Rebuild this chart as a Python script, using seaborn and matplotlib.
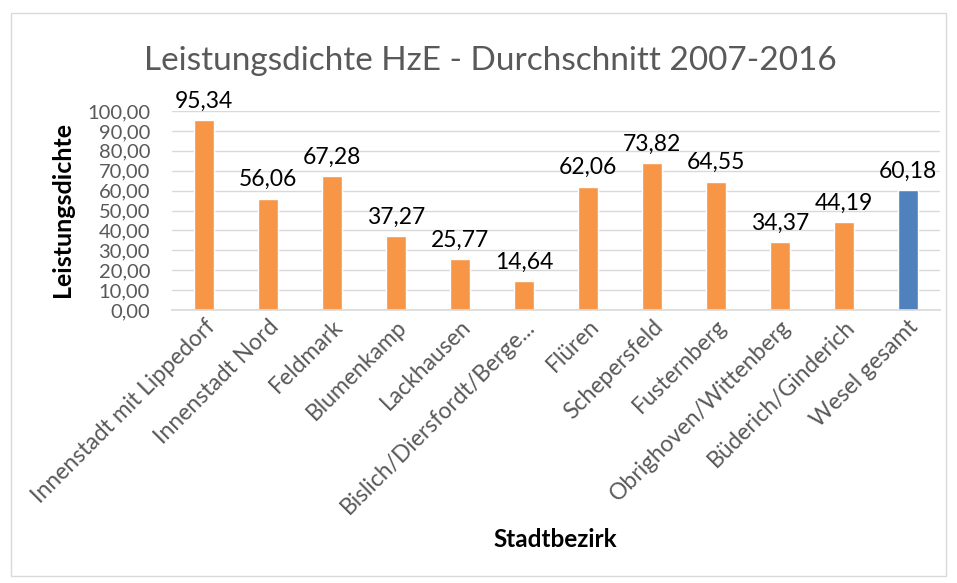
import matplotlib
matplotlib.use("Agg")
import matplotlib.pyplot as plt
import seaborn as sns
import pandas as pd

# Chart data
bezirke = ["Innenstadt mit Lippedorf", "Innenstadt Nord", "Feldmark", "Blumenkamp",
           "Lackhausen", "Bislich/Diersfordt/Berge...", "Flüren", "Schepersfeld",
           "Fusternberg", "Obrighoven/Wittenberg", "Büderich/Ginderich", "Wesel gesamt"]
werte = [95.34, 56.06, 67.28, 37.27, 25.77, 14.64, 62.06, 73.82, 64.55, 34.37, 44.19, 60.18]
gruppe = ["Bezirk"] * 11 + ["Gesamt"]

df = pd.DataFrame({"bezirk": bezirke, "wert": werte, "gruppe": gruppe})

sns.set_theme(style="white")
plt.rcParams["font.family"] = ["Lato", "DejaVu Sans"]

fig = plt.figure(figsize=(9.57, 5.83), dpi=100)
ax = fig.add_axes([0.18, 0.468, 0.802, 0.3416])

sns.barplot(data=df, x="bezirk", y="wert", hue="gruppe", dodge=False,
            palette={"Bezirk": "#F79646", "Gesamt": "#4F81BD"},
            width=0.31, legend=False, ax=ax, saturation=1)

ax.set_ylim(0, 100)
ax.set_xlim(-0.5, len(bezirke) - 0.5)
ax.set_yticks(range(0, 101, 10))
ax.set_yticklabels([f"{v:.2f}".replace(".", ",") for v in range(0, 101, 10)],
                   color="#595959", fontsize=14.5)
ax.tick_params(axis="y", length=0, pad=16)
ax.tick_params(axis="x", length=0, pad=4)
ax.set_xticks(range(len(bezirke)))
ax.set_xticklabels(bezirke, rotation=45, ha="right", rotation_mode="anchor",
                   color="#595959", fontsize=16.5)
ax.grid(axis="y", color="#D9D9D9", linewidth=1)
ax.set_axisbelow(True)
for s in ["top", "right", "left"]:
    ax.spines[s].set_visible(False)
ax.spines["bottom"].set_color("#D9D9D9")
ax.spines["bottom"].set_linewidth(1.2)

for i, v in enumerate(werte):
    ax.annotate(f"{v:.2f}".replace(".", ","), (i, v), xytext=(0, 6),
                textcoords="offset points", ha="center", va="bottom",
                fontsize=16.5, color="black")

ax.set_xlabel("")
ax.set_ylabel("")
fig.text(0.065, 0.64, "Leistungsdichte", rotation=90, ha="center", va="center",
         fontsize=18, fontweight="bold", color="black")
fig.text(0.58, 0.074, "Stadtbezirk", ha="center", va="center",
         fontsize=17.5, fontweight="bold", color="black")
fig.text(0.512, 0.895, "Leistungsdichte HzE - Durchschnitt 2007-2016", ha="center",
         va="center", fontsize=24, color="#595959")

# chart area border
fig.patches.append(plt.Rectangle((0.011, 0.012), 0.978, 0.966, transform=fig.transFigure,
                                 fill=False, edgecolor="#D9D9D9", linewidth=1))

fig.savefig("out.png", dpi=100)
